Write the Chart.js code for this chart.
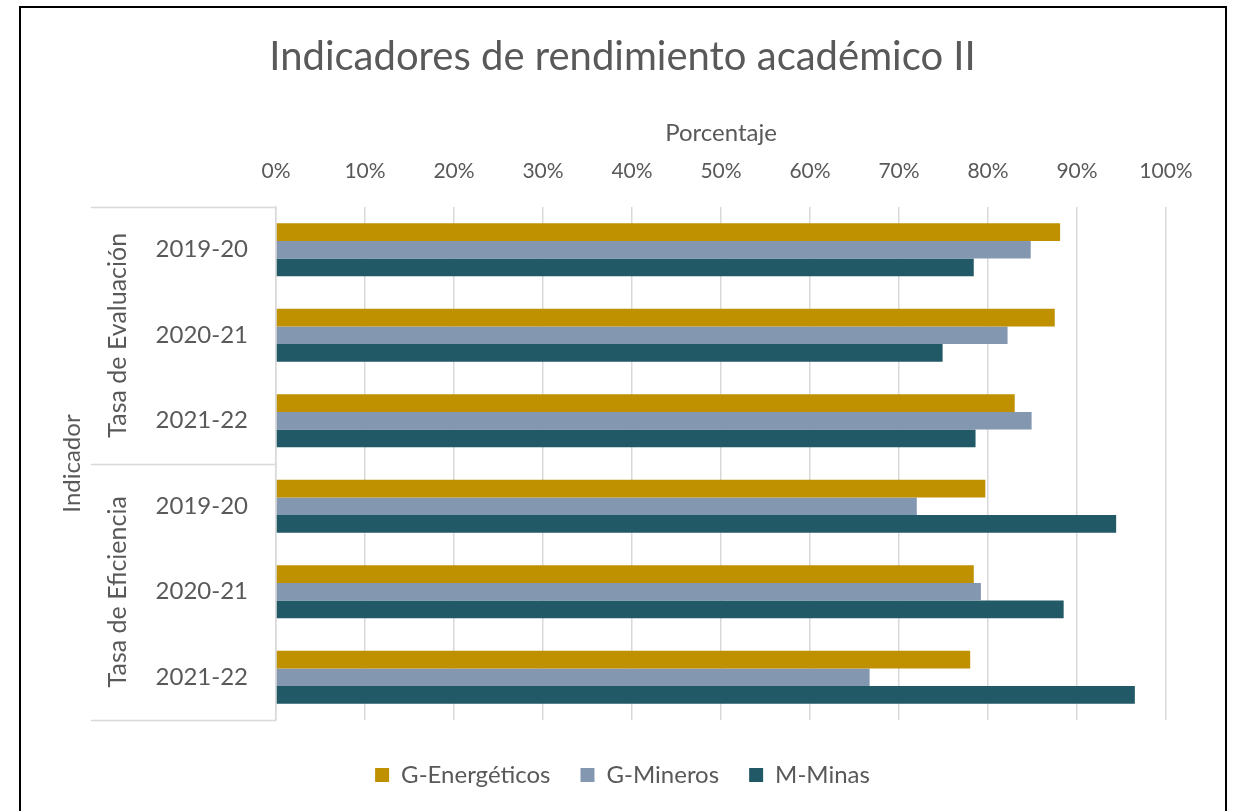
<!DOCTYPE html>
<html>
<head>
<meta charset="utf-8">
<script src="https://cdn.jsdelivr.net/npm/chart.js@4"></script>
<style>
  html, body { margin: 0; padding: 0; background: #fff; overflow: hidden; width: 1235px; height: 811px; }
  #frame { position: absolute; left: 19px; top: 6px; width: 1208px; height: 900px; border: 2px solid #000; box-sizing: border-box; pointer-events: none; }
  #c { position: absolute; left: 20px; top: 0; }
</style>
</head>
<body>
<canvas id="c" width="1205" height="811"></canvas>
<div id="frame"></div>
<script>
const chartTitle = 'Indicadores de rendimiento académico II';
const xAxisTitle = 'Porcentaje';
const yAxisTitle = 'Indicador';
const categories = ['2019-20', '2020-21', '2021-22', '2019-20', '2020-21', '2021-22'];
const groups = ['Tasa de Evaluación', 'Tasa de Eficiencia'];
const groupSizes = [3, 3];
const seriesNames = ['G-Energéticos', 'G-Mineros', 'M-Minas'];
const energeticos = [88.1, 87.5, 83.0, 79.7, 78.4, 78.0];
const mineros = [84.8, 82.2, 84.9, 72.0, 79.2, 66.7];
const minas = [78.4, 74.9, 78.6, 94.4, 88.5, 96.5];
const xTicks = [0, 10, 20, 30, 40, 50, 60, 70, 80, 90, 100];

const FONT = 'Lato';
const TXT = '#595959';
const GRID = '#d9d9d9';

const groupPlugin = {
  id: 'groupPlugin',
  afterDraw(chart) {
    const ctx = chart.ctx;
    const y = chart.scales.y;
    const area = chart.chartArea;
    const step = (area.bottom - area.top) / categories.length;
    ctx.save();
    ctx.strokeStyle = GRID;
    ctx.lineWidth = 1.5;
    // separator lines
    let idx = 0;
    const bounds = [0];
    groupSizes.forEach(s => { idx += s; bounds.push(idx); });
    bounds.forEach(b => {
      const py = Math.round(y.getPixelForValue(b - 0.5 < 0 ? 0 : b - 1) + (b === 0 ? -step / 2 : step / 2)) + 0.5;
      ctx.beginPath();
      ctx.moveTo(71, py);
      ctx.lineTo(area.left, py);
      ctx.stroke();
    });
    // group labels
    ctx.fillStyle = TXT;
    ctx.font = '25px ' + FONT;
    ctx.textAlign = 'center';
    ctx.textBaseline = 'middle';
    let start = 0;
    groups.forEach((g, i) => {
      const first = y.getPixelForValue(start) - step / 2;
      const last = y.getPixelForValue(start + groupSizes[i] - 1) + step / 2;
      const cy = (first + last) / 2;
      ctx.save();
      ctx.translate(98, cy);
      ctx.rotate(-Math.PI / 2);
      ctx.fillText(g, 0, 0);
      ctx.restore();
      start += groupSizes[i];
    });
    ctx.restore();
  }
};

new Chart(document.getElementById('c'), {
  type: 'bar',
  data: {
    labels: categories,
    datasets: [
      { label: seriesNames[0], data: energeticos, backgroundColor: '#BF9000' },
      { label: seriesNames[1], data: mineros, backgroundColor: '#8497B0' },
      { label: seriesNames[2], data: minas, backgroundColor: '#215966' }
    ]
  },
  options: {
    indexAxis: 'y',
    responsive: false,
    animation: false,
    devicePixelRatio: 1,
    barPercentage: 1,
    categoryPercentage: 0.62,
    layout: { padding: { top: 0, left: 0, right: 0, bottom: 14 } },
    scales: {
      x: {
        position: 'top',
        min: 0, max: 100,
        afterBuildTicks(s) { s.ticks = xTicks.map(v => ({ value: v })); },
        afterFit(s) { s.height = 126; },
        ticks: { color: TXT, font: { family: FONT, size: 21 }, padding: 23, callback: v => v + '%' },
        grid: { color: GRID, lineWidth: 1.5, drawTicks: false },
        border: { display: false },
        title: { display: true, text: xAxisTitle, color: TXT, font: { family: FONT, size: 24 }, padding: { top: 38, bottom: 0 } }
      },
      y: {
        afterFit(s) { s.width = 256; },
        ticks: { color: TXT, font: { family: FONT, size: 24 }, padding: 28 },
        grid: { display: false, drawTicks: false },
        border: { display: true, color: GRID, width: 1.5 },
        title: { display: true, text: yAxisTitle, color: TXT, font: { family: FONT, size: 24 }, padding: { top: 38, bottom: 0 } }
      },
      yRight: {
        type: 'category',
        position: 'right',
        display: true,
        ticks: { display: false },
        grid: { display: false, drawTicks: false },
        border: { display: false },
        afterFit(s) { s.width = 59; }
      }
    },
    plugins: {
      tooltip: { enabled: false },
      title: {
        display: true, text: chartTitle, color: TXT,
        font: { family: FONT, size: 40, weight: 'normal' },
        padding: { top: 33, bottom: 0 }
      },
      legend: {
        position: 'bottom',
        title: { display: true, text: '', font: { size: 10 }, padding: { top: 1, bottom: 0 } },
        labels: { color: TXT, font: { family: FONT, size: 24 }, boxWidth: 14, boxHeight: 14, padding: 30 }
      }
    }
  },
  plugins: [groupPlugin]
});
</script>
</body>
</html>
